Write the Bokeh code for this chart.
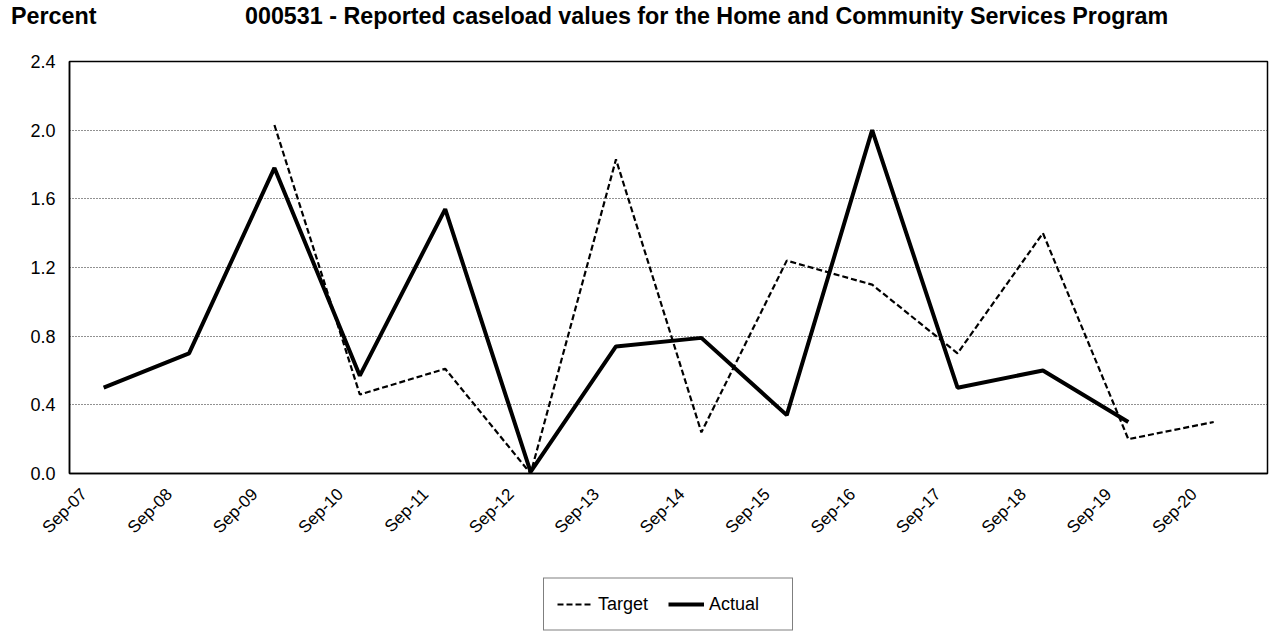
import math
from bokeh.plotting import figure
from bokeh.layouts import column
from bokeh.models import Legend, LegendItem, FixedTicker, Range1d, Div
from bokeh.embed import file_html
from bokeh.resources import INLINE

categories = ["Sep-07", "Sep-08", "Sep-09", "Sep-10", "Sep-11", "Sep-12", "Sep-13",
              "Sep-14", "Sep-15", "Sep-16", "Sep-17", "Sep-18", "Sep-19", "Sep-20"]
actual = [0.50, 0.70, 1.78, 0.57, 1.54, 0.01, 0.74, 0.79, 0.34, 2.00, 0.50, 0.60, 0.30, None]
target = [None, None, 2.03, 0.46, 0.61, 0.00, 1.83, 0.24, 1.24, 1.10, 0.70, 1.40, 0.20, 0.30]
y_ticks = [0.0, 0.4, 0.8, 1.2, 1.6, 2.0, 2.4]
y_label = "Percent"
title = "000531 - Reported caseload values for the Home and Community Services Program"
series_names = ["Target", "Actual"]

FONT = "Liberation Sans"
W = 1272

xs = list(range(len(categories)))
ax = [i for i, v in zip(xs, actual) if v is not None]
ay = [v for v in actual if v is not None]
tx = [i for i, v in zip(xs, target) if v is not None]
ty = [v for v in target if v is not None]

TARGET_STYLE = dict(line_color="black", line_width=2.2, line_dash="6 3")
ACTUAL_STYLE = dict(line_color="black", line_width=4)

# ---- title strip ----
head = Div(
    text=(f'<div style="position:relative;width:{W}px;height:40px;'
          f"font-family:'{FONT}';font-weight:bold;font-size:23.3px;line-height:26px;color:black\">"
          f'<span style="position:absolute;left:6px;top:-2px;white-space:nowrap">{y_label}</span>'
          f'<span style="position:absolute;left:240px;top:-2px;white-space:nowrap">{title}</span>'
          '</div>'),
    width=W, height=40)

# ---- main chart ----
p = figure(width=W, output_backend="svg", toolbar_location=None,
           x_range=Range1d(-0.40, 13.63), y_range=Range1d(0, 2.4),
           frame_width=1198, frame_height=412,
           min_border_left=69, min_border_right=5, min_border_top=11, min_border_bottom=100)

p.outline_line_color = "black"
p.outline_line_width = 1.5

p.xgrid.grid_line_color = None
p.ygrid.ticker = FixedTicker(ticks=y_ticks)
p.ygrid.grid_line_color = "#222222"
p.ygrid.grid_line_dash = "1 2"
p.ygrid.grid_line_width = 1

p.yaxis.ticker = FixedTicker(ticks=y_ticks)
p.yaxis.major_label_overrides = {t: f"{t:.1f}" for t in y_ticks}
p.yaxis.axis_line_color = "black"
p.yaxis.axis_line_width = 1.5
p.yaxis.major_tick_line_color = None
p.yaxis.major_tick_out = 0
p.yaxis.major_tick_in = 0
p.yaxis.minor_tick_line_color = None
p.yaxis.major_label_text_font = FONT
p.yaxis.major_label_text_font_size = "18px"
p.yaxis.major_label_text_color = "black"
p.yaxis.major_label_standoff = 14

# labels sit a little left of each category point, as in the reference
label_shift = 0.23
x_ticks = [i - label_shift for i in xs]
p.xaxis.ticker = FixedTicker(ticks=x_ticks)
p.xaxis.major_label_overrides = {t: c for t, c in zip(x_ticks, categories)}
p.xaxis.major_label_orientation = math.pi / 4
p.xaxis.axis_line_color = "black"
p.xaxis.axis_line_width = 1.5
p.xaxis.major_tick_line_color = None
p.xaxis.major_tick_out = 0
p.xaxis.major_tick_in = 0
p.xaxis.minor_tick_line_color = None
p.xaxis.major_label_text_font = FONT
p.xaxis.major_label_text_font_size = "17px"
p.xaxis.major_label_text_color = "black"
p.xaxis.major_label_standoff = 18

p.line(tx, ty, **TARGET_STYLE)
p.line(ax, ay, **ACTUAL_STYLE)

# ---- legend strip (same series, kept outside this strip's visible range) ----
lf = figure(width=W, height=62, output_backend="svg", toolbar_location=None,
            x_range=Range1d(0, 1), y_range=Range1d(-20, -19),
            min_border_left=69, min_border_right=5, min_border_top=0, min_border_bottom=0)
lf.axis.visible = False
lf.grid.grid_line_color = None
lf.outline_line_color = None
lt = lf.line(tx, ty, **TARGET_STYLE)
la = lf.line(ax, ay, **ACTUAL_STYLE)
legend = Legend(items=[LegendItem(label=series_names[0], renderers=[lt]),
                       LegendItem(label=series_names[1], renderers=[la])],
                orientation="horizontal", location="center")
legend.label_text_font = FONT
legend.label_text_font_size = "18px"
legend.label_text_color = "black"
legend.border_line_color = "black"
legend.border_line_width = 1
legend.padding = 13
legend.spacing = 0
legend.glyph_width = 36
legend.glyph_height = 25
legend.label_height = 25
legend.label_width = 70
legend.label_standoff = 5
legend.margin = 0
lf.add_layout(legend)

layout = column(head, p, lf, spacing=0)
open("out.html", "w").write(file_html(layout, INLINE))
